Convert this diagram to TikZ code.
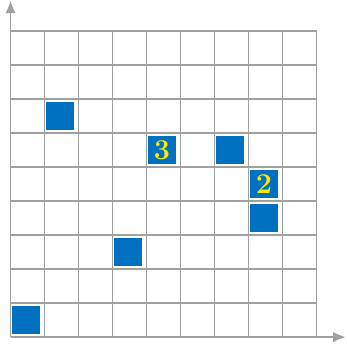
\documentclass[tikz,border=0pt]{standalone}
\usepackage{tikz}
\usetikzlibrary{arrows.meta}
\definecolor{cellblue}{RGB}{0,112,192}
\definecolor{numyellow}{RGB}{255,232,0}
\definecolor{gridgray}{RGB}{160,160,160}

\begin{document}
\begin{tikzpicture}[scale=0.6, every node/.style={font=\Large\bfseries},
  filled/.style={fill=cellblue, minimum size=0.486cm, inner sep=0pt, text=numyellow}]
  \useasboundingbox (-0.31,-0.35) rectangle (9.87,9.91);
  \draw[gridgray, line width=0.6pt] (0,0) grid (9,9);
  \draw[gridgray, line width=0.6pt, -{Latex[length=2.2mm,width=1.8mm]}] (0,0) -- (9.85,0);
  \draw[gridgray, line width=0.6pt, -{Latex[length=2.2mm,width=1.8mm]}] (0,0) -- (0,9.89);
  \node[filled] (c00) at (0.45,0.5) {};
  \node[filled] (c16) at (1.45,6.5) {};
  \node[filled] (c45) at (4.45,5.5) {3};
  \node[filled] (c65) at (6.45,5.5) {};
  \node[filled] (c74) at (7.45,4.5) {2};
  \node[filled] (c73) at (7.45,3.5) {};
  \node[filled] (c32) at (3.45,2.5) {};
\end{tikzpicture}
\end{document}
